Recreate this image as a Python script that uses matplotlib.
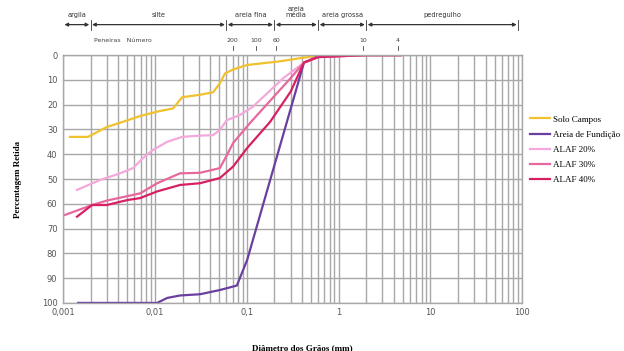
import matplotlib
matplotlib.use("Agg")
import matplotlib.pyplot as plt
from matplotlib.ticker import LogLocator, FixedLocator, FixedFormatter, NullFormatter
import numpy as np

# ---- data ----
series_names = ["Solo Campos", "Areia de Fundição", "ALAF 20%", "ALAF 30%", "ALAF 40%"]
series_colors = ["#F2C12E", "#6A3FA0", "#F4A8DC", "#E8679E", "#D81F63"]

solo_d = [0.00119, 0.00187, 0.0030, 0.0045, 0.0069, 0.0106, 0.0158, 0.0198, 0.031, 0.043, 0.051, 0.058, 0.071, 0.101, 0.23, 0.42, 0.6, 2.0, 4.75]
solo_v = [33, 33, 29, 26.9, 24.6, 22.8, 21.5, 17, 16, 15, 11.4, 7.4, 5.8, 4, 2.5, 1, 0.3, 0, 0]

areia_d = [0.00146, 0.0106, 0.0136, 0.0188, 0.031, 0.051, 0.078, 0.101, 0.42, 0.6, 2.0, 4.75]
areia_v = [100, 100, 98, 97, 96.5, 94.8, 93, 82.7, 3, 0.5, 0, 0]

a20_d = [0.00142, 0.00253, 0.00418, 0.0058, 0.0074, 0.0095, 0.0136, 0.0198, 0.031, 0.043, 0.051, 0.061, 0.084, 0.117, 0.25, 0.42, 0.6, 2.0, 4.75]
a20_v = [54.4, 50.4, 47.7, 45.6, 41.6, 38.3, 35, 33, 32.5, 32.3, 30.2, 26.2, 24.2, 20.8, 9.3, 3, 0.8, 0, 0]

a30_d = [0.00105, 0.00207, 0.0030, 0.0069, 0.0106, 0.0188, 0.031, 0.051, 0.061, 0.071, 0.108, 0.30, 0.42, 0.6, 2.0, 4.75]
a30_v = [64.5, 60.5, 58.7, 55.8, 51.7, 47.7, 47.5, 45.6, 40.3, 35.5, 27.5, 9.3, 3, 0.8, 0, 0]

a40_d = [0.00142, 0.00207, 0.0030, 0.0050, 0.0069, 0.0106, 0.0188, 0.031, 0.051, 0.071, 0.101, 0.18, 0.30, 0.42, 0.6, 2.0, 4.75]
a40_v = [65.2, 60.5, 60.5, 58.5, 57.7, 55, 52.4, 51.7, 49.6, 45, 37.5, 26.9, 14.8, 3, 0.8, 0, 0]

x_ticks = [0.001, 0.01, 0.1, 1, 10, 100]
x_ticklabels = ["0,001", "0,01", "0,1", "1", "10", "100"]
y_ticks = list(range(0, 101, 10))

# top classification bands (name, start, end)
bands = [("argila", 0.001, 0.002), ("silte", 0.002, 0.06), ("areia fina", 0.06, 0.2),
         ("areia\nmédia", 0.2, 0.6), ("areia grossa", 0.6, 2.0), ("pedregulho", 2.0, 90)]
sieve_labels = ["200", "100", "60", "10", "4"]
sieve_d = [0.07, 0.127, 0.21, 1.85, 4.4]

# ---- plot ----
fig = plt.figure(figsize=(6.24, 3.51), dpi=100)
ax = fig.add_axes([0.101, 0.137, 0.736, 0.706])

all_d = [solo_d, areia_d, a20_d, a30_d, a40_d]
all_v = [solo_v, areia_v, a20_v, a30_v, a40_v]
for d, v, n, c in zip(all_d, all_v, series_names, series_colors):
    ax.plot(d, v, color=c, lw=1.6, label=n, solid_joinstyle="round")

ax.set_xscale("log")
ax.set_xlim(0.001, 100)
ax.set_ylim(100, 0)
ax.xaxis.set_major_locator(FixedLocator(x_ticks))
ax.xaxis.set_major_formatter(FixedFormatter(x_ticklabels))
ax.xaxis.set_minor_locator(LogLocator(base=10, subs=np.arange(2, 10)))
ax.xaxis.set_minor_formatter(NullFormatter())
ax.set_yticks(y_ticks)
ax.set_axisbelow(True)
ax.grid(True, which="both", axis="x", color="#a8a8a8", lw=1.0)
ax.grid(True, which="major", axis="y", color="#a8a8a8", lw=1.0)
ax.tick_params(which="both", length=0, labelsize=6, colors="#555555", pad=4)
for s in ax.spines.values():
    s.set_color("#a8a8a8")
    s.set_linewidth(1.0)

serif = ["Liberation Serif", "DejaVu Serif"]
ax.set_ylabel("Percentagem Retida", fontsize=6.5, fontweight="bold", family=serif, labelpad=14)
ax.set_xlabel("Diâmetro dos Grãos (mm)", fontsize=6.5, fontweight="bold", family=serif, labelpad=24)
ax.xaxis.set_label_coords(0.52, -0.165)

leg = ax.legend(loc="upper left", bbox_to_anchor=(1.0, 0.79), frameon=False,
                prop={"family": serif, "size": 6.5}, handlelength=2.2, handletextpad=0.3,
                labelspacing=0.75)

# top bands
tr = ax.get_xaxis_transform()
y_arrow = 1.123
for name, a, b in bands:
    ax.annotate("", xy=(a, y_arrow), xytext=(b, y_arrow), xycoords=tr, textcoords=tr,
                arrowprops=dict(arrowstyle="<|-|>", color="#333333", lw=0.9,
                                mutation_scale=5, shrinkA=1, shrinkB=1),
                annotation_clip=False)
    xm = np.sqrt(a * b)
    ylab = 1.15 if "\n" not in name else 1.148
    ax.text(xm, ylab, name, transform=tr, ha="center", va="bottom", fontsize=4.8,
            color="#333333", linespacing=1.0)
    ax.plot([b, b], [y_arrow - 0.02, y_arrow + 0.02], transform=tr, color="#333333",
            lw=0.6, clip_on=False)

ax.text(0.0045, 1.06, "Peneiras   Número", transform=tr, ha="center", va="center",
        fontsize=4.5, color="#444444")
for lab, d in zip(sieve_labels, sieve_d):
    ax.text(d, 1.06, lab, transform=tr, ha="center", va="center", fontsize=4.5, color="#444444")
    ax.plot([d, d], [1.022, 1.038], transform=tr, color="#444444", lw=0.6, clip_on=False)

fig.savefig("out.png", dpi=100)
